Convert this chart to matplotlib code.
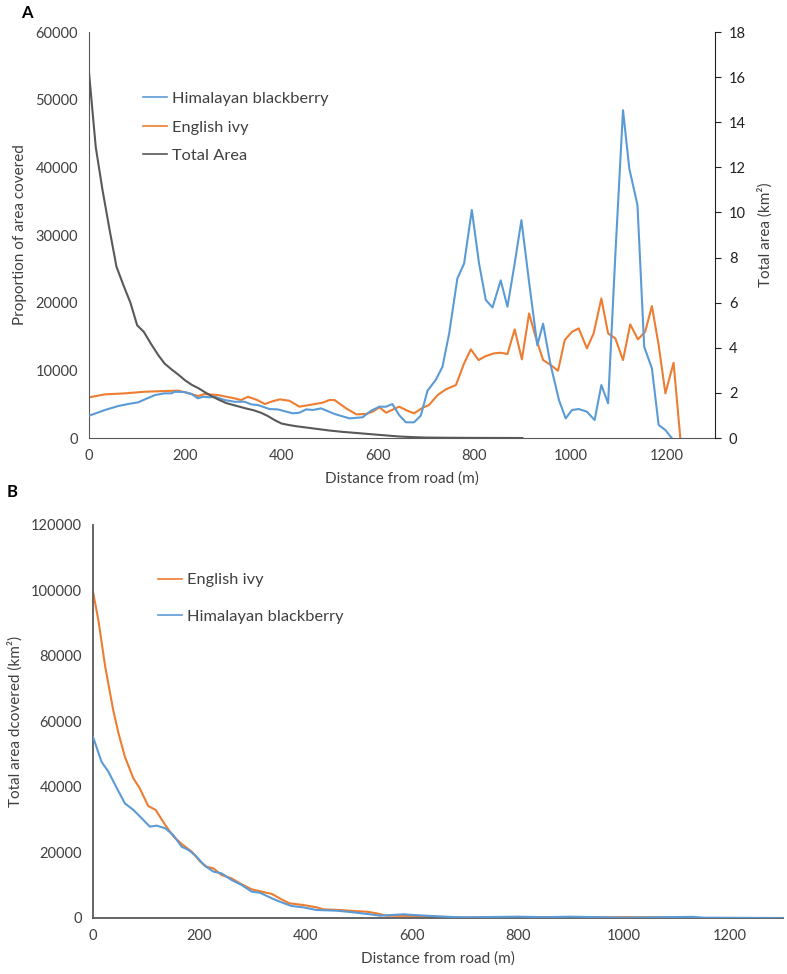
import matplotlib
matplotlib.use("Agg")
import matplotlib.pyplot as plt
from matplotlib.lines import Line2D

plt.rcParams['font.family'] = ['Lato', 'DejaVu Sans']

BLUE = '#5B9BD5'
ORANGE = '#ED7D31'
GRAY = '#595959'
TXT = '#404040'

# ---- panel A data ----
a_bb_x = [0, 33, 61, 81, 102, 116, 137, 157, 171, 178, 199, 213, 226, 237, 251, 261, 282, 302,
          323, 337, 351, 375, 392, 423, 437, 451, 465, 482, 510, 541, 568, 586, 603, 617, 630,
          644, 658, 675, 689, 703, 720, 734, 748, 765, 779, 795, 810, 824, 838, 855, 869, 884,
          898, 914, 931, 943, 958, 976, 990, 1003, 1017, 1034, 1050, 1064, 1078, 1093, 1109,
          1122, 1139, 1153, 1169, 1183, 1197, 1210]
a_bb_y = [3290, 4140, 4730, 5020, 5270, 5710, 6350, 6600, 6600, 6840, 6790, 6500, 5860, 6100,
          6010, 6100, 5610, 5360, 5360, 4970, 4870, 4280, 4230, 3650, 3740, 4230, 4140, 4380,
          3550, 2900, 3060, 4040, 4630, 4630, 5020, 3400, 2320, 2320, 3300, 7000, 8570, 10530,
          15470, 23590, 25800, 33700, 25800, 20400, 19300, 23300, 19400, 25800, 32200, 23000,
          13700, 16900, 11000, 5600, 2900, 4140, 4280, 3890, 2660, 7830, 5120, 27000, 48450,
          39840, 34420, 13490, 10290, 1920, 1180, 0]

a_ivy_x = [0, 33, 75, 116, 157, 185, 213, 226, 240, 268, 302, 316, 330, 350, 365, 378, 396,
           416, 437, 465, 485, 499, 510, 534, 555, 575, 589, 603, 617, 644, 661, 675, 693, 706,
           724, 741, 762, 779, 793, 809, 824, 841, 855, 869, 884, 899, 914, 927, 943, 959, 974,
           988, 1003, 1017, 1034, 1048, 1064, 1078, 1093, 1109, 1124, 1140, 1155, 1169, 1183,
           1197, 1214, 1228]
a_ivy_y = [6010, 6450, 6600, 6840, 6940, 7000, 6500, 6200, 6500, 6350, 5860, 5610, 6100, 5600,
           5020, 5360, 5710, 5510, 4630, 4970, 5220, 5610, 5610, 4380, 3500, 3550, 3890, 4530,
           3740, 4630, 4040, 3650, 4480, 4870, 6350, 7190, 7830, 11030, 13100, 11520, 12110,
           12510, 12600, 12410, 16060, 11620, 18420, 15070, 11520, 10780, 9940, 14480, 15700,
           16200, 13250, 15460, 20630, 15460, 14730, 11520, 16790, 14580, 15700, 19500, 13740,
           6600, 11120, 0]

a_tot_x = [0, 14, 28, 43, 57, 71, 86, 100, 114, 128, 143, 157, 171, 186, 200, 214, 228, 243,
           257, 271, 285, 300, 314, 328, 342, 357, 371, 385, 400, 414, 428, 442, 471, 500, 528,
           557, 585, 614, 642, 671, 700, 750, 800, 900]
a_tot_y = [16.2, 12.9, 11.0, 9.2, 7.6, 6.8, 6.0, 5.0, 4.7, 4.2, 3.7, 3.3, 3.05, 2.8, 2.55, 2.35,
           2.2, 2.0, 1.83, 1.68, 1.55, 1.46, 1.38, 1.3, 1.23, 1.12, 0.98, 0.8, 0.64, 0.58, 0.53,
           0.49, 0.41, 0.33, 0.27, 0.22, 0.17, 0.12, 0.07, 0.04, 0.02, 0.01, 0.005, 0.0]

# ---- panel B data ----
b_ivy_x = [0, 10, 23, 38, 48, 60, 76, 88, 104, 118, 136, 151, 167, 186, 202, 214, 227, 242,
           261, 280, 299, 318, 337, 355, 370, 396, 421, 434, 465, 490, 516, 534, 553, 616, 647,
           700, 800, 970, 1072, 1100]
b_ivy_y = [99600, 91000, 76700, 63500, 56400, 49250, 42650, 39600, 34200, 33000, 28400, 25000,
           22600, 20250, 17200, 15650, 15140, 13130, 12090, 10290, 8760, 8030, 7330, 5700, 4480,
           3970, 3260, 2650, 2440, 2140, 1920, 1430, 700, 610, 400, 150, 300, 250, 250, 0]

b_bb_x = [0, 16, 29, 45, 60, 76, 92, 107, 120, 136, 151, 167, 180, 192, 211, 227, 242, 261,
          280, 299, 314, 337, 352, 374, 396, 421, 459, 490, 522, 541, 585, 603, 628, 660, 700,
          800, 850, 900, 1000, 1105, 1130, 1150, 1300]
b_bb_y = [55300, 47700, 44660, 39600, 35000, 33000, 30400, 27900, 28200, 27400, 25350, 21770,
          20760, 19230, 15880, 14140, 13650, 11600, 10070, 8030, 7730, 6010, 4980, 3660, 3260,
          2440, 2230, 1740, 1130, 700, 1130, 920, 700, 400, 200, 400, 250, 400, 100, 300, 350,
          100, 0]

fig = plt.figure(figsize=(7.87, 9.74), dpi=100)

# ================= panel A =================
ax = fig.add_axes([0.1131, 0.5503, 0.7954, 0.4168])
ax.plot(a_bb_x, a_bb_y, color=BLUE, lw=1.5, zorder=3)
ax.plot(a_ivy_x, a_ivy_y, color=ORANGE, lw=1.5, zorder=2)
ax.set_xlim(0, 1300)
ax.set_ylim(0, 60000)
ax.set_xticks(range(0, 1201, 200))
ax.set_yticks(range(0, 60001, 10000))
ax.tick_params(axis='both', length=0, labelsize=10.5, colors=TXT, pad=8)
ax.spines['top'].set_visible(False)
ax.spines['right'].set_visible(False)
ax.spines['left'].set_color(GRAY)
ax.spines['bottom'].set_color(GRAY)
ax.set_xlabel('Distance from road (m)', fontsize=11, color=TXT, labelpad=6)
ax.set_ylabel('Proportion of area covered', fontsize=11, color=TXT, labelpad=6)

ax2 = ax.twinx()
ax2.plot(a_tot_x, a_tot_y, color=GRAY, lw=1.5)
ax2.set_ylim(0, 18)
ax2.set_yticks(range(0, 19, 2))
ax2.spines['top'].set_visible(False)
ax2.spines['left'].set_visible(False)
ax2.spines['bottom'].set_visible(False)
ax2.spines['right'].set_color('#222222')
ax2.tick_params(axis='y', direction='out', length=4, labelsize=10.5, colors='#222222', pad=6)
ax2.set_ylabel('Total area (km²)', fontsize=11, color=TXT, labelpad=8)

handles_a = [Line2D([], [], color=BLUE, lw=1.2), Line2D([], [], color=ORANGE, lw=1.2),
             Line2D([], [], color=GRAY, lw=1.2)]
ax2.legend(handles_a, ['Himalayan blackberry', 'English ivy', 'Total Area'],
           loc='upper left', bbox_to_anchor=(0.086, 0.853), frameon=False, fontsize=11.8,
           handlelength=1.5, handletextpad=0.3, labelspacing=0.85, borderpad=0,
           borderaxespad=0, labelcolor=TXT)

fig.text(27 / 787, 1 - 13 / 974, 'A', fontsize=12, fontweight='bold', ha='center', va='center')

# ================= panel B =================
bx = fig.add_axes([0.1182, 0.0575, 0.8768, 0.4035])
bx.plot(b_ivy_x, b_ivy_y, color=ORANGE, lw=1.5, zorder=2)
bx.plot(b_bb_x, b_bb_y, color=BLUE, lw=1.5, zorder=3)
bx.set_xlim(0, 1300)
bx.set_ylim(0, 120000)
bx.set_xticks(range(0, 1201, 200))
bx.set_yticks(range(0, 120001, 20000))
bx.tick_params(axis='both', length=0, labelsize=10.5, colors=TXT, pad=8)
bx.spines['top'].set_visible(False)
bx.spines['right'].set_visible(False)
bx.spines['left'].set_color(GRAY)
bx.spines['left'].set_linewidth(1.3)
bx.spines['bottom'].set_color(GRAY)
bx.spines['bottom'].set_linewidth(1.3)
bx.set_xlabel('Distance from road (m)', fontsize=11, color=TXT, labelpad=6)
bx.set_ylabel('Total area dcovered (km²)', fontsize=11, color=TXT, labelpad=6)

handles_b = [Line2D([], [], color=ORANGE, lw=1.2), Line2D([], [], color=BLUE, lw=1.2)]
bx.legend(handles_b, ['English ivy', 'Himalayan blackberry'],
          loc='upper left', bbox_to_anchor=(0.094, 0.878), frameon=False, fontsize=11.8,
          handlelength=1.5, handletextpad=0.3, labelspacing=1.35, borderpad=0,
          borderaxespad=0, labelcolor=TXT)

fig.text(12 / 787, 1 - 492 / 974, 'B', fontsize=12, fontweight='bold', ha='center', va='center')

fig.savefig('out.png', dpi=100)
